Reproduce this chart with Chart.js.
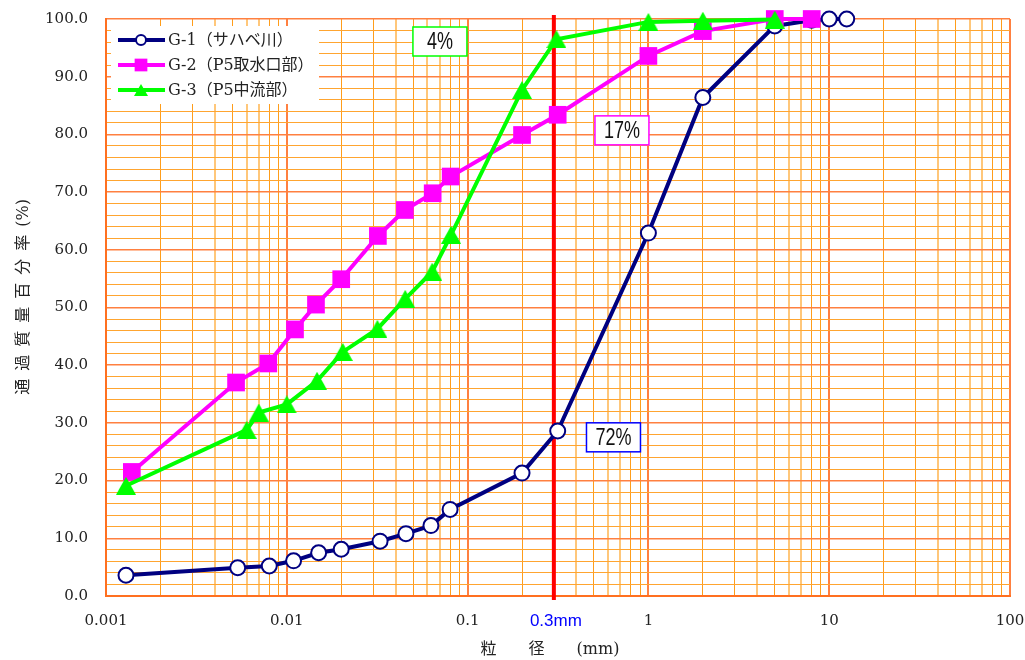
<!DOCTYPE html>
<html><head><meta charset="utf-8">
<script src="https://cdn.jsdelivr.net/npm/chart.js@4.4.0/dist/chart.umd.min.js"></script>
<style>html,body{margin:0;padding:0;background:#fff;}canvas{display:block;}</style>
</head><body>
<canvas id="c" width="1025" height="660"></canvas>
<script>
// ---- data ----
const seriesNames = ['G-1（サハベ川）', 'G-2（P5取水口部）', 'G-3（P5中流部）'];
const g1X = [0.00129, 0.00535, 0.0080, 0.0109, 0.015, 0.020, 0.0328, 0.0456, 0.0627, 0.080, 0.200, 0.315, 1.0, 2.0, 5.0, 8.0, 10.0, 12.5];
const g1Y = [3.6, 4.9, 5.2, 6.1, 7.5, 8.1, 9.5, 10.8, 12.2, 15.0, 21.3, 28.6, 62.9, 86.4, 98.8, 99.8, 100.0, 100.0];
const g2X = [0.00139, 0.00524, 0.0079, 0.0111, 0.0145, 0.020, 0.0319, 0.0450, 0.0641, 0.0806, 0.200, 0.315, 1.0, 2.0, 5.0, 8.0];
const g2Y = [21.5, 37.0, 40.3, 46.2, 50.5, 54.9, 62.4, 66.9, 69.8, 72.7, 79.9, 83.4, 93.6, 97.9, 100.0, 100.0];
const g3X = [0.00129, 0.0060, 0.0070, 0.0100, 0.0147, 0.0204, 0.0317, 0.0452, 0.0637, 0.081, 0.200, 0.310, 1.0, 2.0, 5.0];
const g3Y = [19.1, 28.8, 31.8, 33.2, 37.3, 42.3, 46.3, 51.5, 56.2, 62.6, 87.7, 96.5, 99.5, 99.7, 99.9];
const xDecades = [0.001, 0.01, 0.1, 1, 10, 100];
const xTickLabels = ['0.001', '0.01', '0.1', '1', '10', '100'];
const yMajorTicks = [0, 10, 20, 30, 40, 50, 60, 70, 80, 90, 100];
const cutSize = 0.3;
const cutLabel = '0.3mm';
const annotLabels = ['4%', '17%', '72%'];
const annotX = [0.0703, 0.714, 0.641];
const annotY = [96.1, 80.7, 27.5];
const xTitle = '粒　　径　　(mm)　';
const yTitle = '　 通\u2002過\u2002質\u2002量\u2002百\u2002分\u2002率\u2002(%)';

// ---- styling helpers ----
const C1 = '#000080', C2 = '#FF00FF', C3 = '#00FF00';
const annotColors = [C3, C2, '#0000FF'];
function triCanvas(w, h, color) {
  const c = document.createElement('canvas'); c.width = w; c.height = h;
  const g = c.getContext('2d'); g.fillStyle = color;
  g.beginPath(); g.moveTo(w / 2, 0); g.lineTo(w, h); g.lineTo(0, h); g.closePath(); g.fill();
  return c;
}
const triBig = triCanvas(20, 18, C3);
const triSmall = triCanvas(14, 12, C3);

const xGridValues = [];
for (let e = -3; e <= 1; e++) for (let s = 1; s <= 9; s++) xGridValues.push(Number((s * Math.pow(10, e)).toPrecision(6)));
xGridValues.push(100);
const yGridValues = [];
for (let v = 0; v <= 100; v += 2) yGridValues.push(v);

function sigOf(v) { const e = Math.floor(Math.log10(v) + 1e-9); return Math.round(v / Math.pow(10, e)); }
function xLabel(v) { const i = xDecades.findIndex(d => Math.abs(d - v) / d < 1e-6); return i >= 0 ? xTickLabels[i] : ''; }

const pts = (xs, ys) => xs.map((x, i) => ({ x: x, y: ys[i] }));

const overlay = {
  id: 'overlay',
  beforeDatasetsDraw(chart) {
    const { ctx, chartArea: a, scales: { x } } = chart;
    const px = x.getPixelForValue(cutSize);
    ctx.save();
    ctx.strokeStyle = '#FF0000'; ctx.lineWidth = 4;
    ctx.beginPath(); ctx.moveTo(px, a.top - 4); ctx.lineTo(px, a.bottom + 4); ctx.stroke();
    ctx.fillStyle = '#0000FF'; ctx.font = "17px 'Liberation Sans'";
    ctx.textAlign = 'center'; ctx.textBaseline = 'middle';
    ctx.fillText(cutLabel, px + 2, a.bottom + 25);
    ctx.restore();
  },
  afterDatasetsDraw(chart) {
    const { ctx, chartArea: a, scales: { x, y } } = chart;
    ctx.save();
    // annotation boxes
    for (let i = 0; i < annotLabels.length; i++) {
      const cx = x.getPixelForValue(annotX[i]), cy = y.getPixelForValue(annotY[i]);
      const w = 54, h = 29;
      ctx.fillStyle = '#fff'; ctx.fillRect(cx - w / 2, cy - h / 2, w, h);
      ctx.strokeStyle = annotColors[i]; ctx.lineWidth = 1.5;
      ctx.strokeRect(cx - w / 2, cy - h / 2, w, h);
      ctx.save();
      ctx.translate(cx, cy + 1); ctx.scale(0.75, 1);
      ctx.fillStyle = '#111'; ctx.font = "24px 'Liberation Sans'";
      ctx.textAlign = 'center'; ctx.textBaseline = 'middle';
      ctx.fillText(annotLabels[i], 0, 0);
      ctx.restore();
    }
    // legend
    const lx = a.left + 5, ly = a.top + 7;
    ctx.fillStyle = '#fff'; ctx.fillRect(lx, ly, 208, 78);
    const sets = chart.data.datasets;
    const legendMarkers = [
      { pointStyle: 'circle', radius: 5, borderWidth: 2, rotation: 0, fill: '#fff' },
      { pointStyle: 'rect', radius: 9, borderWidth: 0, rotation: 0, fill: C2 },
      { pointStyle: triSmall, radius: 6, borderWidth: 0, rotation: 0, fill: C3 }
    ];
    for (let i = 0; i < sets.length; i++) {
      const ry = ly + 14 + i * 25;
      ctx.strokeStyle = sets[i].borderColor; ctx.lineWidth = 4;
      ctx.beginPath(); ctx.moveTo(lx + 7, ry); ctx.lineTo(lx + 54, ry); ctx.stroke();
      const m = legendMarkers[i];
      ctx.fillStyle = m.fill; ctx.strokeStyle = sets[i].borderColor; ctx.lineWidth = m.borderWidth;
      Chart.helpers.drawPoint(ctx, m, lx + 30, ry);
      ctx.fillStyle = '#222'; ctx.font = "16px 'DejaVu Serif', 'Noto Sans CJK JP'";
      ctx.textAlign = 'left'; ctx.textBaseline = 'middle';
      ctx.fillText(sets[i].label, lx + 57, ry + 1);
    }
    ctx.restore();
  }
};

new Chart(document.getElementById('c'), {
  type: 'scatter',
  data: {
    datasets: [
      { label: seriesNames[0], data: pts(g1X, g1Y), showLine: true, borderColor: C1, borderWidth: 4,
        pointStyle: 'circle', pointRadius: 7.5, pointBackgroundColor: '#fff', pointBorderColor: C1, pointBorderWidth: 2, order: 3, clip: false },
      { label: seriesNames[1], data: pts(g2X, g2Y), showLine: true, borderColor: C2, borderWidth: 4,
        pointStyle: 'rect', pointRadius: 12.5, pointBackgroundColor: C2, pointBorderColor: C2, pointBorderWidth: 0, order: 2, clip: false },
      { label: seriesNames[2], data: pts(g3X, g3Y), showLine: true, borderColor: C3, borderWidth: 4,
        pointStyle: triBig, pointRadius: 9, pointBackgroundColor: C3, pointBorderColor: C3, pointBorderWidth: 0, order: 1, clip: false }
    ]
  },
  options: {
    responsive: false, animation: false, devicePixelRatio: 1,
    layout: { padding: { top: 19, right: 15, left: 0, bottom: 0 } },
    plugins: { legend: { display: false }, tooltip: { enabled: false } },
    scales: {
      x: {
        type: 'logarithmic', min: 0.001, max: 100, position: 'bottom',
        afterBuildTicks: s => { s.ticks = xGridValues.map(v => ({ value: v })); },
        afterFit: s => { s.height = 64; s.paddingLeft = 0; s.paddingRight = 0; s.paddingTop = 0; s.paddingBottom = 0; },
        ticks: { autoSkip: false, maxRotation: 0, padding: 16, color: '#222',
          font: { family: "'DejaVu Serif'", size: 15 }, callback: v => xLabel(v) },
        grid: { drawTicks: false,
          color: c => { const s = sigOf(c.tick.value); if (s === 1) return '#FF8040'; if (s === 4 || s === 6 || s === 7) return '#FFC77A'; return '#FF9D1A'; },
          lineWidth: c => { const s = sigOf(c.tick.value); if (s === 1) return 2; if (s === 4 || s === 6 || s === 7) return 2; return 1; } },
        border: { color: '#FF7020', width: 2 },
        title: { display: true, text: xTitle, color: '#222',
          font: { family: "'DejaVu Serif', 'Noto Sans CJK JP'", size: 16 }, padding: { top: 0, bottom: 1 } }
      },
      y: {
        min: 0, max: 100,
        afterBuildTicks: s => { s.ticks = yGridValues.map(v => ({ value: v })); },
        afterFit: s => { s.width = 106; s.paddingLeft = 0; s.paddingRight = 0; s.paddingTop = 0; s.paddingBottom = 0; },
        ticks: { autoSkip: false, padding: 18, color: '#222',
          font: { family: "'DejaVu Serif'", size: 15 },
          callback: v => yMajorTicks.includes(v) ? v.toFixed(1) : '' },
        grid: { drawTicks: false,
          color: c => (c.tick.value % 10 === 0 ? '#FF8040' : '#FFA530'),
          lineWidth: c => (c.tick.value % 10 === 0 ? 1.5 : 1) },
        border: { color: '#FF7020', width: 2 },
        title: { display: true, text: yTitle, color: '#222',
          font: { family: "'DejaVu Serif', 'Noto Sans CJK JP'", size: 16 }, padding: { top: 14, bottom: 0 } }
      }
    }
  },
  plugins: [overlay]
});
</script>
</body></html>
